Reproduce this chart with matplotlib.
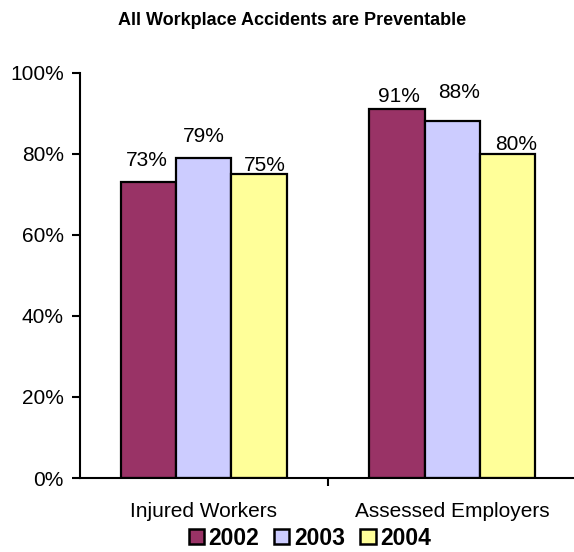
import matplotlib

matplotlib.use("Agg")
import matplotlib.pyplot as plt
import numpy as np

plt.rcParams["font.family"] = ["Liberation Sans", "DejaVu Sans"]

categories = ["Injured Workers", "Assessed Employers"]
years = ["2002", "2003", "2004"]
values = {
    "2002": [73, 91],
    "2003": [79, 88],
    "2004": [75, 80],
}
colors = ["#993366", "#CCCCFF", "#FFFF99"]

# label nudges (pixels) so neighbouring labels don't crowd each other
label_nudge = {
    "2002": [(-1.5, 16), (1.5, 7)],
    "2003": [(0, 16), (6.5, 23)],
    "2004": [(5.5, 3), (8.5, 4)],
}

fig = plt.figure(figsize=(5.74, 5.52), dpi=100)
ax = fig.add_axes([0.139, 0.134, 0.865, 0.734])

x = np.arange(len(categories))
width = 0.222
for i, (year, color) in enumerate(zip(years, colors)):
    pos = x + (i - 1) * width
    ax.bar(pos, values[year], width=width, color=color, edgecolor="black",
           linewidth=1.6, label=year, zorder=2)
    for xp, v, (dx, dy) in zip(pos, values[year], label_nudge[year]):
        ax.annotate(f"{v}%", (xp, v), xytext=(dx, dy),
                    textcoords="offset pixels", ha="center", va="baseline",
                    fontsize=15)

ax.set_xlim(-0.5, 1.5)
ax.set_ylim(0, 100)
ax.set_yticks(np.arange(0, 101, 20))
ax.set_yticklabels([f"{t}%" for t in range(0, 101, 20)], fontsize=15)
ax.tick_params(axis="y", direction="out", length=5.5, width=1.5, pad=6)

# category boundary tick only, labels placed at group centres
ax.set_xticks([0.5])
ax.set_xticklabels([""])
ax.tick_params(axis="x", direction="out", length=5.5, width=1.5)
for xc, name in zip(x, categories):
    ax.text(xc, -5.8, name, ha="center", va="top", fontsize=15)

for side in ("top", "right"):
    ax.spines[side].set_visible(False)
for side in ("left", "bottom"):
    ax.spines[side].set_linewidth(1.5)

fig.text(0.509, 0.963, "All Workplace Accidents are Preventable",
         ha="center", va="center", fontsize=13, fontweight="bold")

leg = fig.legend(loc="center", bbox_to_anchor=(0.54, 0.025), ncol=3,
                 frameon=False, prop={"weight": "bold", "size": 16.5},
                 handlelength=0.66, handleheight=0.66, handletextpad=0.22,
                 columnspacing=0.65, borderpad=0)
for h in leg.legend_handles:
    h.set_linewidth(1.8)

fig.savefig("out.png", dpi=100)
